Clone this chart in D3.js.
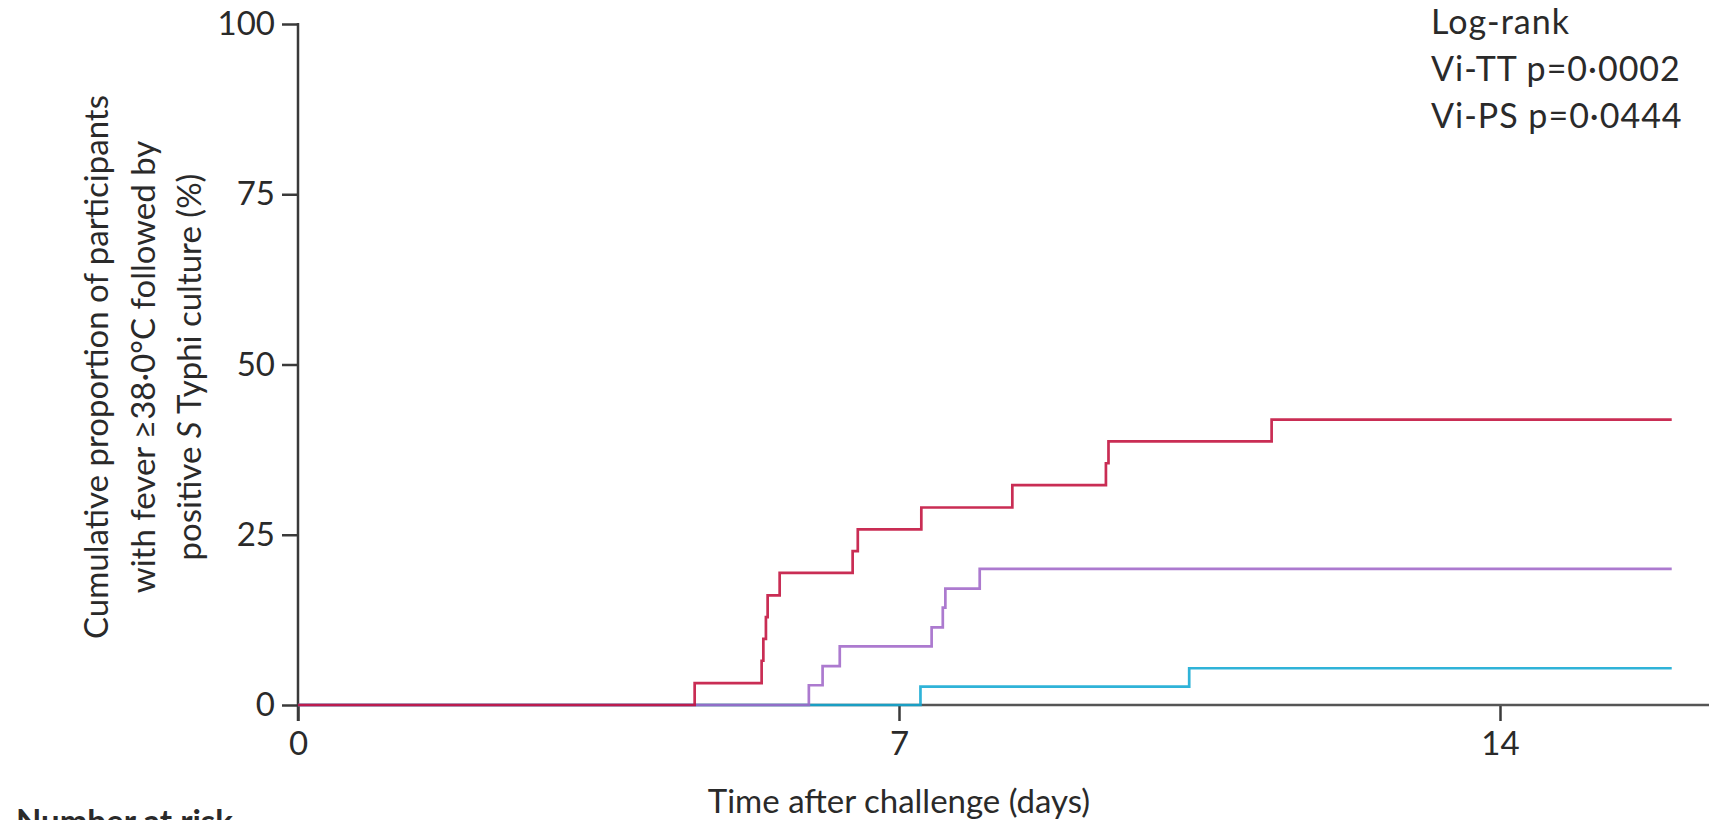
<!DOCTYPE html>
<html><head><meta charset="utf-8">
<script src="https://cdn.jsdelivr.net/npm/d3@7"></script>
<style>
body{margin:0;background:#fff}
svg{display:block}
text{font-family:Lato,"Open Sans",sans-serif;fill:#2a2a2a}
</style>
</head><body>
<svg id="c" width="1709" height="820"></svg>
<script>
// ---- data ----
const xTicks = [0, 7, 14];
const yTicks = [0, 25, 50, 75, 100];
const controlDays = [0, 4.62, 5.40, 5.42, 5.45, 5.47, 5.61, 6.46, 6.52, 7.26, 8.32, 9.41, 9.44, 11.34, 16.0];
const controlPct  = [0, 3.2, 6.5, 9.7, 12.9, 16.1, 19.4, 22.6, 25.8, 29.0, 32.3, 35.5, 38.7, 41.9, 41.9];
const viPsDays = [0, 5.95, 6.11, 6.31, 7.38, 7.51, 7.54, 7.94, 16.0];
const viPsPct  = [0, 2.9, 5.7, 8.6, 11.4, 14.3, 17.1, 20.0, 20.0];
const viTtDays = [0, 7.25, 10.38, 16.0];
const viTtPct  = [0, 2.7, 5.4, 5.4];
const statLines = ["Log-rank", "Vi-TT p=0·0002", "Vi-PS p=0·0444"];
const yTitleLines = ["Cumulative proportion of participants", "with fever ≥38·0°C followed by"];

const series = [
  {name: "Vi-TT", days: viTtDays, pct: viTtPct, color: "#12a8d3"},
  {name: "Vi-PS", days: viPsDays, pct: viPsPct, color: "#a068c8"},
  {name: "Control", days: controlDays, pct: controlPct, color: "#c2103c"}
];

const W = 1709, H = 820;
const svg = d3.select("#c");
const x = d3.scaleLinear().domain([0, 14]).range([298, 1500]);
const y = d3.scaleLinear().domain([0, 100]).range([705, 24]);
const axisColor = "#3a3a3a";
const fs = 33;

// y axis
const ya = svg.append("g").attr("transform", `translate(${x(0)},0)`)
  .call(d3.axisLeft(y).tickValues(yTicks).tickSize(16).tickPadding(7));
ya.select(".domain").remove();
ya.selectAll("line").attr("stroke", axisColor).attr("stroke-width", 2.5);
ya.selectAll("text").attr("font-size", fs).attr("font-family", "Lato, sans-serif").attr("fill", "#2a2a2a");
svg.append("line").attr("x1", x(0)).attr("x2", x(0)).attr("y1", y(100) - 1).attr("y2", y(0) + 16)
  .attr("stroke", axisColor).attr("stroke-width", 2.5);

// x axis
const xa = svg.append("g").attr("transform", `translate(0,${y(0)})`)
  .call(d3.axisBottom(x).tickValues(xTicks).tickSize(16).tickPadding(11));
xa.select(".domain").remove();
xa.selectAll("line").attr("stroke", axisColor).attr("stroke-width", 2.5);
xa.selectAll("text").attr("font-size", fs).attr("font-family", "Lato, sans-serif").attr("fill", "#2a2a2a");
svg.append("line").attr("x1", x(0)).attr("x2", W).attr("y1", y(0)).attr("y2", y(0))
  .attr("stroke", "#555").attr("stroke-width", 2.5);

// curves
const line = d3.line().curve(d3.curveStepAfter).x(d => x(d[0])).y(d => y(d[1]));
series.forEach(s => {
  const pts = s.days.map((d, i) => [d, s.pct[i]]);
  svg.append("path").datum(pts).attr("d", line)
    .attr("fill", "none").attr("stroke", s.color).attr("stroke-width", 2.7)
    .attr("stroke-opacity", 0.88).attr("stroke-linejoin", "miter");
});

// stats text
statLines.forEach((t, i) => {
  svg.append("text").attr("x", 1431).attr("y", 34 + i * 47).attr("font-size", 34)
    .attr("letter-spacing", 1).text(t);
});

// axis titles
svg.append("text").attr("x", x(7)).attr("y", 813).attr("text-anchor", "middle")
  .attr("font-size", fs).text("Time after challenge (days)");

const yt = svg.append("text").attr("transform", "translate(0,367) rotate(-90)")
  .attr("text-anchor", "middle").attr("font-size", fs);
yt.append("tspan").attr("x", 0).attr("y", 108).text(yTitleLines[0]);
yt.append("tspan").attr("x", 0).attr("y", 155).text(yTitleLines[1]);
const l3 = yt.append("tspan").attr("x", 0).attr("y", 201);
l3.append("tspan").text("positive ");
l3.append("tspan").attr("font-style", "italic").text("S");
l3.append("tspan").text(" Typhi culture (%)");

svg.append("text").attr("x", 16).attr("y", 833).attr("font-size", fs).attr("font-weight", "bold")
  .text("Number at risk");
</script>
</body></html>
